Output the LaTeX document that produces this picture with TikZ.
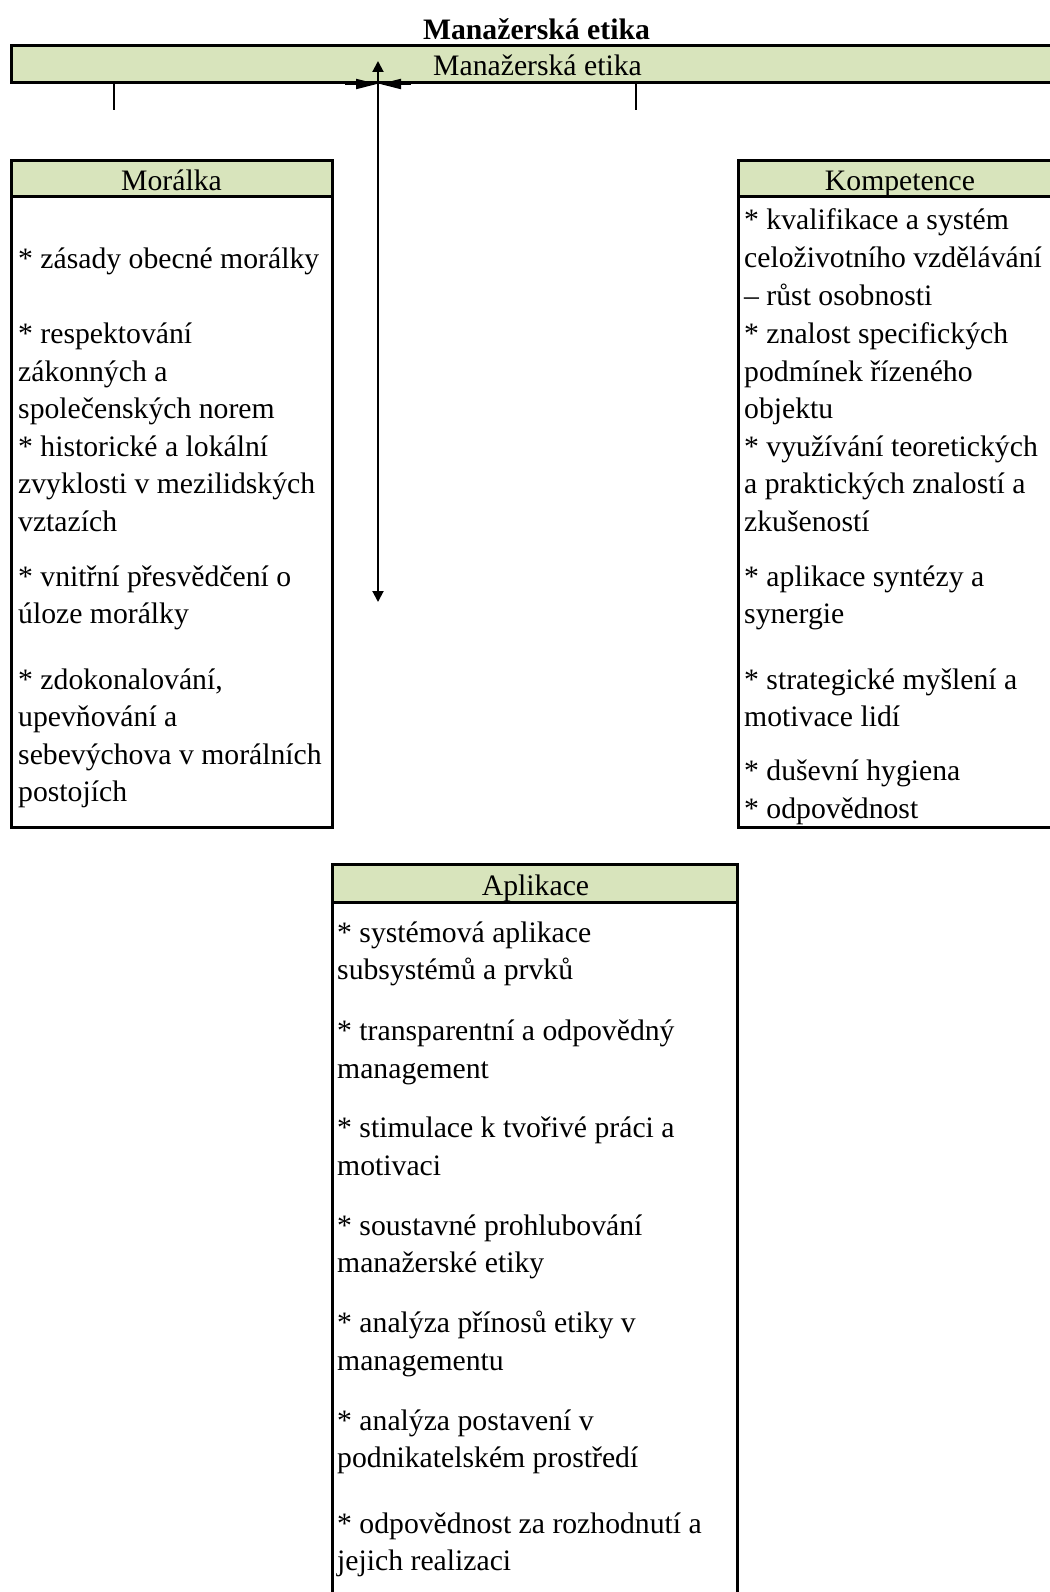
\documentclass[tikz,border=0pt]{standalone}
\usepackage{fontspec}
\setmainfont{Liberation Serif}
\usetikzlibrary{arrows.meta}
\definecolor{hdr}{HTML}{D8E4BC}
\tikzset{
  frame/.style={draw=black, line width=3pt, outer sep=0pt, inner sep=0pt, anchor=north west},
  head/.style={frame, fill=hdr},
  txt/.style={anchor=base west, inner sep=0pt, font=\fontsize{29.7}{36}\selectfont},
  hdtxt/.style={anchor=base, inner sep=0pt, font=\fontsize{29.7}{36}\selectfont},
  link/.style={draw=black, line width=2pt},
}
\begin{document}
\begin{tikzpicture}[x=1pt,y=-1pt]
\useasboundingbox (0,0) rectangle (1049,1592);

% title
\node[hdtxt, font=\fontsize{29.7}{36}\selectfont\bfseries] (title) at (536.5,40) {Manažerská etika};

% top bar
\node[head, minimum width=1052pt, minimum height=37pt] (bar) at (11,46) {};
\node[hdtxt] (bartxt) at (537.5,76) {Manažerská etika};

% ticks under the bar
\coordinate (t1a) at (114,83); \coordinate (t1b) at (114,110);
\coordinate (t2a) at (636,83); \coordinate (t2b) at (636,110);
\draw[link] (t1a) -- (t1b);
\draw[link] (t2a) -- (t2b);

% vertical double arrow
\coordinate (atop) at (378,61); \coordinate (abot) at (378,602);
\draw[link, {Triangle[length=11pt,width=11pt]}-{Triangle[length=11pt,width=11pt]}] (atop) -- (abot);

% two arrowheads meeting at the arrow under the bar
\coordinate (la) at (345,84); \coordinate (lb) at (377,84);
\coordinate (ra) at (411,84); \coordinate (rb) at (380,84);
\draw[link, -{Triangle[length=21pt,width=10pt]}] (la) -- (lb);
\draw[link, -{Triangle[length=21pt,width=10pt]}] (ra) -- (rb);

% Moralka box
\node[frame, minimum width=321pt, minimum height=667pt] (mor) at (11,160) {};
\node[head, minimum width=321pt, minimum height=36pt] (morh) at (11,160) {};
\node[hdtxt] (morht) at (171.5,190) {Morálka};
\foreach \yy/\tt [count=\i] in {
  268/{* zásady obecné morálky},
  343/{* respektování},
  381/{zákonných a},
  418.5/{společenských norem},
  456/{* historické a lokální},
  493.5/{zvyklosti v mezilidských},
  531/{vztazích},
  586/{* vnitřní přesvědčení o},
  623.5/{úloze morálky},
  689/{* zdokonalování,},
  726.5/{upevňování a},
  764/{sebevýchova v morálních},
  801.5/{postojích}}
  \node[txt] (m\i) at (18,\yy) {\tt};

% Kompetence box
\node[frame, minimum width=324pt, minimum height=667pt] (kom) at (738,160) {};
\node[head, minimum width=324pt, minimum height=36pt] (komh) at (738,160) {};
\node[hdtxt] (komht) at (900,190) {Kompetence};
\foreach \yy/\tt [count=\i] in {
  229/{* kvalifikace a systém},
  267/{celoživotního vzdělávání},
  305/{– růst osobnosti},
  343/{* znalost specifických},
  381/{podmínek řízeného},
  418.5/{objektu},
  456/{* využívání teoretických},
  493.5/{a praktických znalostí a},
  531/{zkušeností},
  586/{* aplikace syntézy a},
  623.5/{synergie},
  689/{* strategické myšlení a},
  726.5/{motivace lidí},
  780.5/{* duševní hygiena},
  818.5/{* odpovědnost}}
  \node[txt] (k\i) at (744,\yy) {\tt};

% Aplikace box
\node[frame, minimum width=405pt, minimum height=760pt] (apl) at (332,864) {};
\node[head, minimum width=405pt, minimum height=38pt] (aplh) at (332,864) {};
\node[hdtxt] (aplht) at (535.5,895) {Aplikace};
\foreach \yy/\tt [count=\i] in {
  942/{* systémová aplikace},
  979.5/{subsystémů a prvků},
  1040.5/{* transparentní a odpovědný},
  1078/{management},
  1137.5/{* stimulace k tvořivé práci a},
  1175/{motivaci},
  1235/{* soustavné prohlubování},
  1272.5/{manažerské etiky},
  1332.5/{* analýza přínosů etiky v},
  1370/{managementu},
  1430/{* analýza postavení v},
  1467.5/{podnikatelském prostředí},
  1533/{* odpovědnost za rozhodnutí a},
  1570.5/{jejich realizaci}}
  \node[txt] (a\i) at (337,\yy) {\tt};
\end{tikzpicture}
\end{document}
